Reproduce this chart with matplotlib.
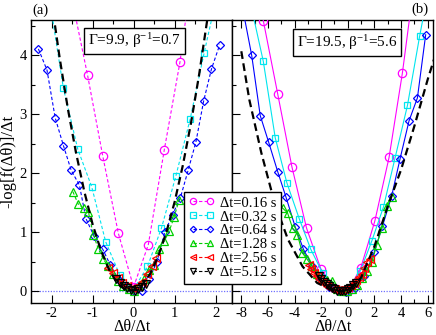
import matplotlib
matplotlib.use("Agg")
import matplotlib.pyplot as plt
from matplotlib.ticker import MultipleLocator

plt.rcParams['font.family'] = ['Liberation Serif', 'DejaVu Serif']
plt.rcParams['mathtext.fontset'] = 'custom'
plt.rcParams['mathtext.rm'] = 'Liberation Serif'
plt.rcParams['mathtext.it'] = 'Liberation Serif:italic'
plt.rcParams['axes.unicode_minus'] = False

# ---------------- data: panel (a) ----------------
a_x016 = [-1.5, -1.12, -0.75, -0.37, 0.0, 0.36, 0.75, 1.13, 1.5]
a_y016 = [4.95, 3.66, 2.29, 0.98, 0.07, 0.79, 2.40, 3.88, 5.80]

a_x032 = [-2.05, -1.71, -1.36, -1.02, -0.68, -0.34, 0.0, 0.34, 0.68, 1.03, 1.38, 1.72, 2.06]
a_y032 = [4.96, 3.44, 2.41, 1.77, 0.84, 0.28, 0.03, 0.42, 1.07, 1.95, 2.92, 4.04, 5.10]

a_x064 = [-2.32, -2.11, -1.91, -1.71, -1.52, -1.32, -1.16, -0.96, -0.75, -0.57, -0.37, -0.19,
          0.0, 0.2, 0.38, 0.57, 0.76, 0.95, 1.14, 1.33, 1.52, 1.71, 1.90, 2.10]
a_y064 = [4.11, 3.75, 2.94, 2.47, 2.05, 1.80, 1.23, 0.93, 0.71, 0.45, 0.20, 0.08,
          0.0, 0.0, 0.20, 0.50, 1.00, 1.30, 1.58, 2.05, 2.53, 3.23, 3.77, 4.18]

a_x128 = [-1.48, -1.35, -1.22, -1.10, -0.98, -0.86, -0.74, -0.62, -0.49, -0.37, -0.25, -0.12,
          0.0, 0.13, 0.26, 0.38, 0.50, 0.62, 0.75, 0.87, 0.99, 1.11]
a_y128 = [1.69, 1.48, 1.41, 1.34, 0.96, 0.72, 0.55, 0.42, 0.30, 0.17, 0.09, 0.03,
          0.01, 0.08, 0.20, 0.36, 0.45, 0.72, 0.85, 1.02, 1.26, 1.55]

a_x256 = [-0.62, -0.51, -0.39, -0.27, -0.15, -0.03, 0.09, 0.21, 0.33, 0.45, 0.55]
a_y256 = [0.40, 0.31, 0.23, 0.14, 0.08, 0.05, 0.08, 0.16, 0.30, 0.42, 0.56]

a_x512 = [-0.42, -0.33, -0.24, -0.15, -0.06, 0.03, 0.12, 0.21, 0.30]
a_y512 = [0.20, 0.14, 0.09, 0.05, 0.02, 0.01, 0.03, 0.07, 0.13]

a_theory_x = [-2.0, -1.8, -1.6, -1.4, -1.2, -1.0, -0.8, -0.6, -0.4, -0.2, 0.0,
              0.2, 0.4, 0.6, 0.8, 1.0, 1.2, 1.4, 1.6, 1.8, 2.0]
a_theory_y = [4.92, 3.95, 3.09, 2.34, 1.69, 1.14, 0.70, 0.37, 0.14, 0.02, 0.01,
              0.10, 0.29, 0.59, 1.00, 1.51, 2.13, 2.85, 3.68, 4.62, 5.66]

# ---------------- data: panel (b) ----------------
b_x016 = [-7.4, -6.35, -5.27, -4.20, -3.10, -2.03, -1.00, 0.0, 0.98, 2.03, 3.10, 4.10, 5.2]
b_y016 = [6.0, 4.59, 3.35, 2.11, 1.07, 0.38, 0.06, 0.0, 0.40, 1.19, 2.27, 3.70, 5.6]

b_x032 = [-7.23, -6.35, -5.45, -4.58, -3.65, -2.78, -1.90, -1.0, -0.1, 0.95, 1.80, 2.68, 3.55, 4.48, 5.40, 6.3]
b_y032 = [4.8, 3.90, 2.60, 1.84, 1.23, 0.71, 0.31, 0.06, -0.02, 0.35, 0.85, 1.43, 2.26, 3.15, 4.33, 5.4]

b_x064 = [-7.86, -7.22, -6.58, -5.95, -5.27, -4.65, -3.95, -3.33, -2.68, -2.05, -1.40, -0.76,
          -0.12, 0.55, 1.25, 1.98, 2.60, 3.30, 3.93, 4.60, 5.23, 5.85]
b_y064 = [4.75, 4.00, 2.98, 2.53, 2.03, 1.60, 1.09, 0.71, 0.43, 0.20, 0.07, 0.0,
          -0.02, 0.05, 0.25, 0.66, 1.10, 1.62, 2.25, 2.89, 3.28, 4.35]

b_x128 = [-4.90, -4.53, -4.15, -3.78, -3.42, -3.05, -2.68, -2.30, -1.93, -1.55, -1.18, -0.80,
          -0.43, -0.05, 0.32, 0.70, 1.07, 1.45, 1.82, 2.18, 2.55, 2.93, 3.30]
b_y128 = [1.41, 1.33, 1.07, 0.96, 0.65, 0.54, 0.42, 0.30, 0.22, 0.19, 0.17, 0.04,
          0.0, 0.0, 0.04, 0.10, 0.22, 0.35, 0.50, 0.79, 1.07, 1.44, 1.60]

b_x256 = [-2.93, -2.75, -2.55, -2.35, -2.15, -1.95, -1.75, -1.55, -1.35, -1.15, -0.95, -0.75,
          -0.55, -0.35, -0.15, 0.05, 0.25, 0.45, 0.65, 0.85, 1.05, 1.25, 1.45, 1.65]
b_y256 = [0.45, 0.37, 0.31, 0.25, 0.21, 0.15, 0.12, 0.09, 0.06, 0.04, 0.03, 0.02,
          0.02, 0.03, 0.05, 0.07, 0.10, 0.14, 0.19, 0.24, 0.30, 0.40, 0.50, 0.55]

b_x512 = [-2.2, -2.0, -1.8, -1.6, -1.4, -1.2, -1.0, -0.8, -0.6, -0.4, -0.2, 0.0, 0.2, 0.4, 0.6]
b_y512 = [0.25, 0.20, 0.16, 0.12, 0.08, 0.05, 0.03, 0.01, 0.0, 0.0, 0.01, 0.03, 0.06, 0.10, 0.14]

b_theory_x = [-8.0, -7.4, -6.5, -5.5, -4.5, -3.4, -2.3, -1.2, -0.5, 0.2, 1.0, 2.0, 3.0, 4.0, 5.0, 6.0, 6.5]
b_theory_y = [4.07, 3.25, 2.35, 1.50, 0.88, 0.42, 0.14, 0.02, 0.0, 0.05, 0.23, 0.76, 1.44, 2.06, 2.80, 3.59, 3.95]

labels = ['Δt=0.16 s', 'Δt=0.32 s', 'Δt=0.64 s', 'Δt=1.28 s', 'Δt=2.56 s', 'Δt=5.12 s']
colors = ['#ff00ff', '#00e5ee', '#0000ff', '#00d000', '#ff0000', '#000000']
markers = ['o', 's', 'D', '^', '<', 'v']
msizes = [6, 5, 4.3, 5.8, 5.8, 5.8]

a_series = [(a_x016, a_y016), (a_x032, a_y032), (a_x064, a_y064),
            (a_x128, a_y128), (a_x256, a_y256), (a_x512, a_y512)]
b_series = [(b_x016, b_y016), (b_x032, b_y032), (b_x064, b_y064),
            (b_x128, b_y128), (b_x256, b_y256), (b_x512, b_y512)]

W, H = 436, 335
fig = plt.figure(figsize=(W / 100, H / 100), dpi=100)
ax_l, ax_r = 31 / W, 232 / W
ax_w = 201 / W
ax_b = 1 - 303 / H
ax_h = 283 / H
axA = fig.add_axes([ax_l, ax_b, ax_w, ax_h])
axB = fig.add_axes([ax_r, ax_b, (433 - 232) / W, ax_h])

handles = []
for (x, y), c, m, ms, lab in zip(a_series, colors, markers, msizes, labels):
    h, = axA.plot(x, y, color=c, ls=(0, (3, 2)), lw=0.8, marker=m, ms=ms,
                  mfc='none', mec=c, mew=0.9, label=lab, zorder=3)
    handles.append(h)
axA.plot(a_theory_x, a_theory_y, color='black', lw=1.6, ls=(0, (3.5, 2.0)), zorder=4)

for (x, y), c, m, ms in zip(b_series, colors, markers, msizes):
    axB.plot(x, y, color=c, ls='-', lw=0.8, marker=m, ms=ms,
             mfc='none', mec=c, mew=0.9, zorder=3)
axB.plot(b_theory_x, b_theory_y, color='black', lw=1.6, ls=(0, (3.5, 2.0)), zorder=4)

for ax in (axA, axB):
    ax.axhline(0, color='#7070ff', lw=0.9, ls=(0, (1, 1.2)), zorder=1)
    ax.set_ylim(-0.2, 4.6)
    ax.yaxis.set_major_locator(MultipleLocator(1))
    ax.yaxis.set_minor_locator(MultipleLocator(0.5))
    ax.tick_params(which='both', direction='in', labelsize=10.5, top=True)
    ax.tick_params(which='major', length=5.5, width=0.8, pad=3)
    ax.tick_params(which='minor', length=3, width=0.8)
    for s in ax.spines.values():
        s.set_linewidth(1.0)
    ax.set_xlabel('Δθ/Δt', fontsize=11.5, labelpad=-1)

axA.set_xlim(-2.5, 2.4)
axA.xaxis.set_major_locator(MultipleLocator(1))
axA.xaxis.set_minor_locator(MultipleLocator(0.5))
axA.tick_params(which='both', right=False)
axA.set_ylabel('-log[f(Δθ)]/Δt', fontsize=12, labelpad=2)

axB.set_xlim(-8.7, 6.4)
axB.xaxis.set_major_locator(MultipleLocator(2))
axB.xaxis.set_minor_locator(MultipleLocator(1))
axB.tick_params(which='both', left=True, right=False, labelleft=False)

box = dict(boxstyle='square,pad=0.25', fc='white', ec='black', lw=1.0)
axA.text(0.515, 0.926, 'Γ=9.9, β$^{-1}$=0.7', transform=axA.transAxes,
         ha='center', va='center', fontsize=11, bbox=box, zorder=6)
axB.text(0.572, 0.92, 'Γ=19.5, β$^{-1}$=5.6', transform=axB.transAxes,
         ha='center', va='center', fontsize=11, bbox=box, zorder=6)

fig.text(40 / W, 1 - 10 / H, '(a)', ha='center', va='center', fontsize=10.5)
fig.text(420 / W, 1 - 9 / H, '(b)', ha='center', va='center', fontsize=10.5)

leg = fig.legend(handles=handles, loc='upper left', bbox_to_anchor=(184 / W, 1 - 192 / H),
                 bbox_transform=fig.transFigure, fontsize=10.5, numpoints=2,
                 handlelength=1.8, handletextpad=0.35, labelspacing=0.05,
                 borderpad=0.3, borderaxespad=0, markerscale=0.75,
                 frameon=True, fancybox=False, framealpha=1, edgecolor='black')
leg.get_frame().set_linewidth(1.0)
leg.set_zorder(10)

fig.savefig('out.png', dpi=100)
